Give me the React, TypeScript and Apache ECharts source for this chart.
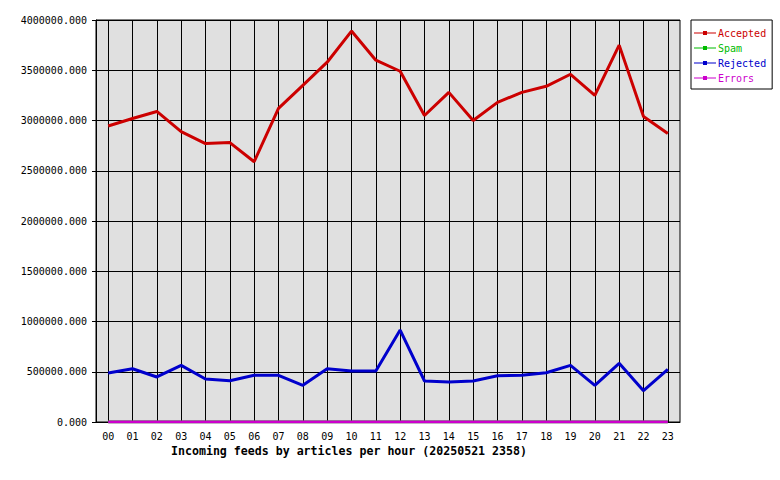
import React, { useEffect, useRef } from "react";
import * as echarts from "echarts";

const hours = ["00","01","02","03","04","05","06","07","08","09","10","11","12","13","14","15","16","17","18","19","20","21","22","23"];
const accepted = [2945000,3020000,3090000,2890000,2770000,2780000,2590000,3120000,3350000,3580000,3890000,3600000,3490000,3050000,3280000,3000000,3180000,3280000,3340000,3460000,3250000,3750000,3040000,2870000];
const spam = [0,0,0,0,0,0,0,0,0,0,0,0,0,0,0,0,0,0,0,0,0,0,0,0];
const rejected = [488000,530000,448000,564000,428000,411000,465000,465000,365000,530000,507000,507000,915000,408000,398000,408000,461000,465000,490000,564000,365000,584000,311000,524000];
const errors = [0,0,0,0,0,0,0,0,0,0,0,0,0,0,0,0,0,0,0,0,0,0,0,0];
const seriesNames = ["Accepted", "Spam", "Rejected", "Errors"];
const seriesColors = ["#cc0000", "#00bb00", "#0000cc", "#cc00cc"];
const titleText = "Incoming feeds by articles per hour (20250521 2358)";

const MONO = "'DejaVu Sans Mono', monospace";
const legendIcon = "path://M0,4.5L9,4.5L9,3L13,3L13,4.5L22,4.5L22,5.5L13,5.5L13,7L9,7L9,5.5L0,5.5Z";

export default function App() {
  const ref = useRef<HTMLDivElement>(null);
  useEffect(() => {
    if (!ref.current) return;
    const chart = echarts.init(ref.current, undefined, { renderer: "svg" });
    const dataSets = [accepted, spam, rejected, errors];
    chart.setOption({
      animation: false,
      backgroundColor: "#ffffff",
      textStyle: { fontFamily: MONO },
      title: {
        text: titleText,
        left: 171,
        top: 445,
        padding: 0,
        textStyle: { fontFamily: MONO, fontSize: 11.6, fontWeight: "bold", color: "#000" },
      },
      legend: {
        orient: "vertical",
        left: 691,
        top: 20,
        width: 79,
        padding: [8, 6, 6, 3],
        itemGap: 5,
        itemWidth: 22,
        itemHeight: 10,
        borderColor: "#000",
        borderWidth: 1,
        backgroundColor: "#fff",
        icon: legendIcon,
        selectedMode: false,
        data: seriesNames.map((n, i) => ({
          name: n,
          textStyle: { color: seriesColors[i], fontFamily: MONO, fontSize: 10 },
        })),
        textStyle: { fontFamily: MONO, fontSize: 10, padding: [0, 0, 0, -3] },
      },
      grid: {
        left: 96,
        top: 20,
        right: 100,
        bottom: 58,
        show: true,
        backgroundColor: "#e0e0e0",
        borderColor: "#000",
        borderWidth: 1,
      },
      xAxis: {
        type: "category",
        data: hours,
        boundaryGap: true,
        axisLine: { show: true, lineStyle: { color: "#000", width: 1 } },
        axisTick: {
          show: true,
          inside: true,
          alignWithLabel: true,
          length: 402,
          lineStyle: { color: "#000", width: 1 },
        },
        splitLine: { show: false },
        axisLabel: { color: "#000", fontFamily: MONO, fontSize: 10, margin: 9, interval: 0 },
      },
      yAxis: {
        type: "value",
        min: 0,
        max: 4000000,
        interval: 500000,
        axisLine: { show: true, lineStyle: { color: "#000", width: 1 } },
        axisTick: { show: true, length: 4, lineStyle: { color: "#000" } },
        splitLine: { show: true, lineStyle: { color: "#000", width: 1 } },
        axisLabel: {
          color: "#000",
          fontFamily: MONO,
          fontSize: 10,
          margin: 9,
          formatter: (v: number) => v.toFixed(3),
        },
      },
      series: seriesNames.map((n, i) => ({
        name: n,
        type: "line",
        data: dataSets[i],
        symbol: "none",
        color: seriesColors[i],
        lineStyle: { color: seriesColors[i], width: 3 },
        z: 3 + i,
      })),
    });
    return () => chart.dispose();
  }, []);
  return <div ref={ref} style={{ width: 780, height: 480, position: "absolute", left: 0, top: 0 }} />;
}
